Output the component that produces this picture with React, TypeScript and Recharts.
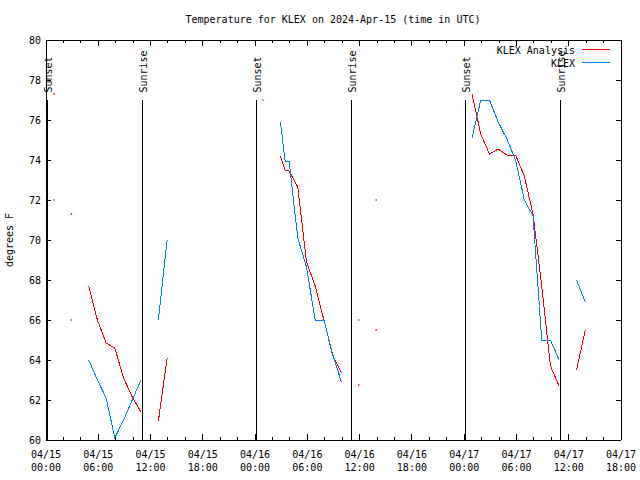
import React from 'react';
import { LineChart, Line, XAxis, YAxis, ReferenceLine, ReferenceDot, Legend } from 'recharts';

const FONT = "'DejaVu Sans Mono', 'Liberation Mono', monospace";
const RED = '#ff0000';
const BLUE = '#0080ff';

const titleText = 'Temperature for KLEX on 2024-Apr-15 (time in UTC)';
const yAxisTitle = 'degrees F';
const seriesNames = ['KLEX Analysis', 'KLEX'];

// x axis: hours since 2024-04-15 00:00 UTC
const xDomain = [0, 66];
const xMajorHours = [0, 6, 12, 18, 24, 30, 36, 42, 48, 54, 60, 66];
const xMajorDates = ['04/15', '04/15', '04/15', '04/15', '04/16', '04/16', '04/16', '04/16', '04/17', '04/17', '04/17', '04/17'];
const xMajorTimes = ['00:00', '06:00', '12:00', '18:00', '00:00', '06:00', '12:00', '18:00', '00:00', '06:00', '12:00', '18:00'];
const xMinorHours = [2, 4, 8, 10, 14, 16, 20, 22, 26, 28, 32, 34, 38, 40, 44, 46, 50, 52, 56, 58, 62, 64];
const yDomain = [60, 80];
const yTicks = [60, 62, 64, 66, 68, 70, 72, 74, 76, 78, 80];

const sunHours = [0.13, 11.08, 24.15, 35.05, 48.17, 59.03];
const sunLabels = ['Sunset', 'Sunrise', 'Sunset', 'Sunrise', 'Sunset', 'Sunrise'];
const sunLineTop = 77;

// KLEX Analysis (red)
const analysisHours = [0.9, 1.9, 2.9, 3.9, 4.9, 5.9, 6.9, 7.9, 8.9, 9.9, 10.9, 11.9, 12.9, 13.9, 14.9,
  26.9, 27.45, 27.9, 28.9, 29.9, 30.9, 31.9, 32.9, 33.9, 34.9, 35.9, 36.9, 37.9, 38.9,
  48.9, 49.9, 50.9, 51.9, 52.9, 53.9, 54.9, 55.9, 56.9, 57.9, 58.9, 59.9, 60.9, 61.9];
const analysisTemps: (number | null)[] = [77.3, null, 71.3, null, 67.7, 66.0, 64.85, 64.6, 63.1, 62.15, 61.4, null, 60.95, 64.1, null,
  74.2, 73.5, 73.45, 72.65, 68.9, 67.7, 66.0, 64.25, 63.35, null, 62.75, null, 65.5, null,
  77.3, 75.3, 74.3, 74.55, 74.25, 74.25, 73.2, 71.3, 67.7, 63.7, 62.7, null, 63.5, 65.5];

// KLEX observations (blue)
const klexHours = [0.9, 1.9, 2.9, 3.9, 4.9, 5.9, 6.9, 7.9, 8.9, 9.9, 10.9, 11.9, 12.9, 13.9, 14.9,
  24.9, 25.9, 26.9, 27.45, 27.9, 28.9, 29.9, 30.9, 31.9, 32.9, 33.9, 34.9, 35.9, 36.9, 37.9, 38.9,
  48.9, 49.9, 50.9, 51.9, 52.9, 53.9, 54.9, 55.9, 56.9, 57.9, 58.9, 59.9, 60.9, 61.9];
const klexTemps: (number | null)[] = [72.0, null, 66.0, null, 64.0, 63.0, 62.1, 60.1, 61.0, 62.0, 63.0, null, 66.0, 70.0, null,
  77.0, null, 75.9, 73.95, 73.95, 70.1, 68.65, 66.0, 66.0, 64.3, 62.9, null, 66.0, null, 72.0, null,
  75.1, 77.0, 77.0, 75.9, 75.05, 74.0, 72.0, 71.2, 65.0, 65.0, 64.0, null, 68.0, 66.9];

const analysisData = analysisHours.map((h, i) => ({ hour: h, temp: analysisTemps[i] }));
const klexData = klexHours.map((h, i) => ({ hour: h, temp: klexTemps[i] }));
const xAllTicks = [...xMajorHours, ...xMinorHours].sort((a, b) => a - b);

const textStyle = { fontFamily: FONT, fontSize: 10, fill: '#000' } as const;

const makeDot = (temps: (number | null)[], color: string, tag: string) => (props: any) => {
  const { cx, cy, index } = props;
  const key = `${tag}-${index}`;
  const v = temps[index];
  const prev = index > 0 ? temps[index - 1] : null;
  const next = index < temps.length - 1 ? temps[index + 1] : null;
  if (v == null || prev != null || next != null || cx == null || cy == null || isNaN(cy)) return <g key={key} />;
  return <rect key={key} x={cx - 0.75} y={cy - 0.75} width={1.5} height={1.5} fill={color} />;
};

const BottomTick = (props: any) => {
  const { x, y, payload } = props;
  const i = xMajorHours.indexOf(payload.value);
  const len = i >= 0 ? 6 : 3;
  return (
    <g>
      <line x1={x} x2={x} y1={y} y2={y - len} stroke="#000" shapeRendering="crispEdges" />
      {i >= 0 && (
        <text x={x} y={y + 18} textAnchor="middle" style={textStyle}>{xMajorDates[i]}</text>
      )}
      {i >= 0 && (
        <text x={x} y={y + 30.5} textAnchor="middle" style={textStyle}>{xMajorTimes[i]}</text>
      )}
    </g>
  );
};

const TopTick = (props: any) => {
  const { x, y, payload } = props;
  const i = xMajorHours.indexOf(payload.value);
  const len = i >= 0 ? 6 : 3;
  return <line x1={x} x2={x} y1={y} y2={y + len} stroke="#000" shapeRendering="crispEdges" />;
};

const LeftTick = (props: any) => {
  const { x, y, payload } = props;
  return (
    <g>
      <line x1={x} x2={x + 5} y1={y} y2={y} stroke="#000" shapeRendering="crispEdges" />
      <text x={x - 5} y={y + 4} textAnchor="end" style={textStyle}>{payload.value}</text>
    </g>
  );
};

const RightTick = (props: any) => {
  const { x, y } = props;
  return <line x1={x} x2={x - 5} y1={y} y2={y} stroke="#000" shapeRendering="crispEdges" />;
};

const renderLegend = (props: any) => {
  const payload = [...(props.payload || [])].sort(
    (a: any, b: any) => seriesNames.indexOf(a.value) - seriesNames.indexOf(b.value)
  );
  return (
    <div style={{ position: 'absolute', left: 0, top: 0, width: 0, height: 0 }}>
      <svg width={640} height={80} style={{ position: 'absolute', left: 0, top: 0, overflow: 'visible' }}>
        {payload.map((e: any, i: number) => (
          <g key={`lg-${i}`}>
            <text x={575} y={54 + 13 * i} textAnchor="end" style={textStyle}>{e.value}</text>
            <line x1={582} x2={610} y1={49.5 + 13 * i} y2={49.5 + 13 * i} stroke={e.color} strokeWidth={1} shapeRendering="crispEdges" />
          </g>
        ))}
      </svg>
    </div>
  );
};

const SunLabel = (label: string) => (props: any) => {
  const { cx, cy } = props;
  if (cx == null || cy == null) return <g />;
  const x0 = cx + 4.5;
  const y0 = cy - 7.5;
  return (
    <text x={x0} y={y0} transform={`rotate(-90 ${x0} ${y0})`} textAnchor="start" style={textStyle}>{label}</text>
  );
};

export default function App() {
  return (
    <div style={{ position: 'absolute', left: 0, top: 0, width: 640, height: 480, background: '#fff' }}>
      <svg width={640} height={40} style={{ position: 'absolute', left: 0, top: 0 }}>
        <text x={333} y={23} textAnchor="middle" style={textStyle}>{titleText}</text>
      </svg>
      <LineChart width={640} height={480} margin={{ top: 0, right: 0, bottom: 0, left: 0 }}>
        <XAxis xAxisId="b" dataKey="hour" type="number" domain={xDomain} ticks={xAllTicks} interval={0}
          allowDataOverflow height={40} tickSize={0} tickMargin={0} tick={<BottomTick />} tickLine={false}
          axisLine={{ stroke: '#000', shapeRendering: 'crispEdges' }} />
        <XAxis xAxisId="t" orientation="top" dataKey="hour" type="number" domain={xDomain} ticks={xAllTicks} interval={0}
          allowDataOverflow height={40} tickSize={0} tickMargin={0} tick={<TopTick />} tickLine={false}
          axisLine={{ stroke: '#000', shapeRendering: 'crispEdges' }} />
        <YAxis yAxisId="l" type="number" domain={yDomain} ticks={yTicks} interval={0} allowDataOverflow width={46}
          tickSize={0} tickMargin={0} tick={<LeftTick />} tickLine={false}
          axisLine={{ stroke: '#000', shapeRendering: 'crispEdges' }}
          label={(p: any) => {
            const vb = p.viewBox || { x: 0, y: 40, width: 46, height: 400 };
            const cx = 13;
            const cy = vb.y + vb.height / 2;
            return <text x={cx} y={cy} transform={`rotate(-90 ${cx} ${cy})`} textAnchor="middle" style={textStyle}>{yAxisTitle}</text>;
          }} />
        <YAxis yAxisId="r" orientation="right" type="number" domain={yDomain} ticks={yTicks} interval={0} allowDataOverflow width={19}
          tickSize={0} tickMargin={0} tick={<RightTick />} tickLine={false}
          axisLine={{ stroke: '#000', shapeRendering: 'crispEdges' }} />
        {sunHours.map((h, i) => (
          <ReferenceLine key={`sl-${i}`} xAxisId="b" yAxisId="l"
            segment={[{ x: h, y: sunLineTop }, { x: h, y: yDomain[0] }]}
            stroke="#000" strokeWidth={1} shapeRendering="crispEdges" />
        ))}
        {sunHours.map((h, i) => (
          <ReferenceDot key={`sd-${i}`} xAxisId="b" yAxisId="l" x={h} y={sunLineTop} r={0}
            shape={SunLabel(sunLabels[i])} />
        ))}
        <Line xAxisId="b" yAxisId="l" data={analysisData} dataKey="temp" name="KLEX Analysis" type="linear"
          stroke={RED} strokeWidth={1} dot={makeDot(analysisTemps, RED, 'a')} activeDot={false}
          connectNulls={false} isAnimationActive={false} shapeRendering="crispEdges" />
        <Line xAxisId="b" yAxisId="l" data={klexData} dataKey="temp" name="KLEX" type="linear"
          stroke={BLUE} strokeWidth={1} dot={makeDot(klexTemps, BLUE, 'k')} activeDot={false}
          connectNulls={false} isAnimationActive={false} shapeRendering="crispEdges" />
        <Legend layout="horizontal" verticalAlign="middle" align="center" itemSorter={null as any}
          wrapperStyle={{ left: 0, top: 0, width: 0, height: 0 }} content={renderLegend} />
      </LineChart>
    </div>
  );
}
